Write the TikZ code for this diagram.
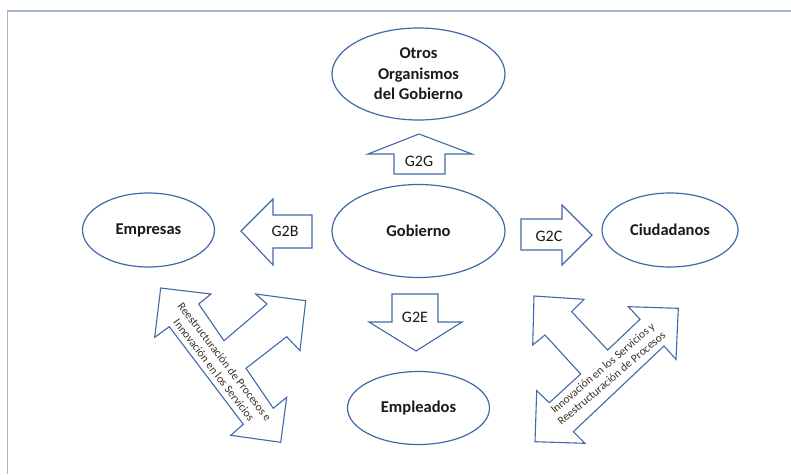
\documentclass[tikz,border=0pt]{standalone}
\usepackage{fontspec}
\setmainfont{Carlito}
\usetikzlibrary{shapes.geometric}
\definecolor{edgeblue}{HTML}{4169A8}
\definecolor{framecol}{HTML}{A5B5CD}
\definecolor{txtcol}{HTML}{1A1A1A}
\definecolor{diagtxt}{HTML}{3A3026}
\tikzset{
  oval/.style={ellipse, draw=edgeblue, line width=1.2pt, fill=white, inner sep=0pt,
    text=txtcol, font=\fontsize{16.5}{20.5}\selectfont\bfseries, align=center},
  blockarrow/.style={draw=edgeblue, line width=1.1pt, fill=white, line join=miter},
  arrowlabel/.style={text=txtcol, font=\fontsize{16}{19}\selectfont, inner sep=0pt},
  diaglabel/.style={text=diagtxt, font=\fontsize{11.5}{13.5}\selectfont, align=center, inner sep=0pt}
}
\begin{document}
\begin{tikzpicture}[x=1pt,y=-1pt]
\useasboundingbox (0,0) rectangle (791,474);
\fill[white] (0,0) rectangle (791,474);
\draw[framecol, line width=1.5pt] (7.3,474) -- (7.3,11) -- (791,11);

% ellipses
\node[oval, minimum width=173pt, minimum height=92pt] (otros) at (418.5,74) {Otros\\Organismos\\del Gobierno};
\node[oval, minimum width=173pt, minimum height=93pt] (gob) at (418.5,231) {Gobierno};
\node[oval, minimum width=132pt, minimum height=74pt] (emp) at (148.5,230) {Empresas};
\node[oval, minimum width=136pt, minimum height=74pt] (ciu) at (670,230) {Ciudadanos};
\node[oval, minimum width=142pt, minimum height=73pt] (empl) at (418.5,408) {Empleados};

% G2G up arrow
\draw[blockarrow] (394,174) -- (394,154) -- (368,154) -- (419,134) -- (472,154) -- (445,154) -- (445,174) -- cycle;
\node[arrowlabel] (g2g) at (419,161) {G2G};
% G2B left arrow
\draw[blockarrow] (312,215) -- (273,215) -- (273,199) -- (241,231) -- (273,265) -- (273,248) -- (312,248) -- cycle;
\node[arrowlabel] (g2b) at (285,231) {G2B};
% G2C right arrow
\draw[blockarrow] (521,219) -- (562,219) -- (562,205) -- (592,235) -- (562,265) -- (562,250) -- (521,250) -- cycle;
\node[arrowlabel] (g2c) at (549,236) {G2C};
% G2E down arrow
\draw[blockarrow] (392,294) -- (438,294) -- (438,322) -- (462,322) -- (416,351) -- (369,322) -- (392,322) -- cycle;
\node[arrowlabel] (g2e) at (415,317) {G2E};

% left three-headed arrow
\draw[blockarrow] (160.7,288) -- (211,294) -- (198.7,304) -- (224,340.7) -- (267,304) -- (255.7,294) -- (305.7,300.7) -- (300,350.7) -- (286.7,336.7) -- (246,368.3) -- (273.3,408.3) -- (286.7,397.3) -- (280.7,442.3) -- (230.7,435.3) -- (243.3,424.3) -- (169.3,326.7) -- (154.7,337.3) -- cycle;
\node[diaglabel, rotate=-52.5] (ltext) at (219.5,366) {Reestructuración de Procesos e\\Innovación en los Servicios};

% right three-headed arrow
\draw[blockarrow] (534,296) -- (584,299.3) -- (571.7,311.7) -- (607.7,350) -- (640,319.3) -- (628.3,306.7) -- (678.3,308.3) -- (676,359.3) -- (664,346) -- (573.3,431.7) -- (585,443.3) -- (535,441.7) -- (536.7,390.7) -- (549.3,402.7) -- (580.7,374) -- (545,335) -- (532.7,345) -- cycle;
\node[diaglabel, rotate=40.5] (rtext) at (607,373) {Innovación en los Servicios y\\Reestructuración de Procesos};
\end{tikzpicture}
\end{document}
